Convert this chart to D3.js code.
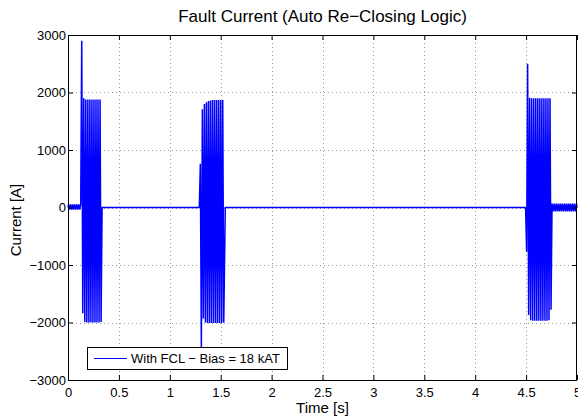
<!DOCTYPE html>
<html>
<head>
<meta charset="utf-8">
<script src="https://cdn.jsdelivr.net/npm/d3@7"></script>
<style>
  body { margin: 0; background: #fff; }
  svg { display: block; }
</style>
</head>
<body>
<div id="chart"></div>
<script>
// half-cycle peaks of the current (50 Hz -> one peak every 10 ms)
const halfPeriod = 0.01;

const preFaultStart = 0.005;
const preFaultPeaks = [55, -35, 55, -35, 55, -35, 55, -35, 55, -35, 55, -35, 55];

const fault1Start = 0.135;
const fault1Peaks = [2900, -1840, 1900, -1990, 1880, -2000, 1880, -2000, 1880, -2000,
  1880, -2000, 1880, -2000, 1880, -2000, 1880, -2000, 1880, -1990];

const fault2Start = 1.3;
const fault2Peaks = [760, -2440, 1710, -1930, 1800, -2000, 1830, -2010, 1850, -2010,
  1860, -2010, 1870, -2010, 1870, -2010, 1870, -2010, 1870, -2010, 1870, -2010, 1870, -2000];

const fault3Start = 4.505;
const fault3Peaks = [-770, 2500, -1870, 1910, -1960, 1900, -1970, 1900, -1970, 1900,
  -1970, 1900, -1970, 1900, -1970, 1900, -1970, 1900, -1970, 1900, -1970, 1900, -1960, 1900, -1780];

const postFaultStart = 4.755;
const postFaultPeaks = [70, -70, 70, -70, 70, -70, 70, -70, 70, -70, 70, -70, 70,
  -70, 70, -70, 70, -70, 70, -70, 70, -70, 70, -70, 70];

// flat (breaker open / no fault) stretches
const quietTimes = [0, 0.335, 1.29, 1.545, 4.495, 5];

const xTicks = [0, 0.5, 1, 1.5, 2, 2.5, 3, 3.5, 4, 4.5, 5];
const yTicks = [-3000, -2000, -1000, 0, 1000, 2000, 3000];

const svgWidth = 578;
const svgHeight = 417;
const margin = { top: 35, right: 1, bottom: 37, left: 68 };
const innerWidth = svgWidth - margin.left - margin.right;
const innerHeight = svgHeight - margin.top - margin.bottom;
const font = "'Liberation Sans', Arial, Helvetica, sans-serif";

const svg = d3.select("#chart")
  .append("svg")
  .attr("width", svgWidth)
  .attr("height", svgHeight)
  .style("font-family", font);

const x = d3.scaleLinear()
  .domain([0, 5])
  .range([margin.left, margin.left + innerWidth]);

const y = d3.scaleLinear()
  .domain([-3000, 3000])
  .range([margin.top + innerHeight, margin.top]);

// build the point list
const points = [];
const addPeaks = (t0, peaks) => peaks.forEach((v, i) => points.push({ t: t0 + i * halfPeriod, v }));
addPeaks(preFaultStart, preFaultPeaks);
addPeaks(fault1Start, fault1Peaks);
addPeaks(fault2Start, fault2Peaks);
addPeaks(fault3Start, fault3Peaks);
addPeaks(postFaultStart, postFaultPeaks);
quietTimes.forEach(t => points.push({ t, v: 0 }));
points.sort((a, b) => a.t - b.t);

// grid
const grid = svg.append("g")
  .attr("stroke", "#999")
  .attr("stroke-width", 1)
  .attr("stroke-dasharray", "1,3");

grid.selectAll("line.vx")
  .data(xTicks.slice(1, -1))
  .join("line")
  .attr("x1", d => Math.round(x(d)) + 0.5)
  .attr("x2", d => Math.round(x(d)) + 0.5)
  .attr("y1", margin.top)
  .attr("y2", margin.top + innerHeight);

grid.selectAll("line.hy")
  .data(yTicks.slice(1, -1))
  .join("line")
  .attr("y1", d => Math.round(y(d)) + 0.5)
  .attr("y2", d => Math.round(y(d)) + 0.5)
  .attr("x1", margin.left)
  .attr("x2", margin.left + innerWidth);

// signal
const line = d3.line()
  .x(d => x(d.t))
  .y(d => y(d.v));

svg.append("path")
  .datum(points)
  .attr("fill", "none")
  .attr("stroke", "#0000ff")
  .attr("stroke-width", 1.5)
  .attr("d", line);

// axes (MATLAB style: ticks inside on all four sides)
const fmt = d3.format("~g");

svg.append("g")
  .attr("transform", `translate(0,${margin.top + innerHeight})`)
  .call(d3.axisBottom(x).tickValues(xTicks).tickFormat(fmt).tickSize(-5).tickPadding(8))
  .call(g => g.select(".domain").remove())
  .call(g => g.selectAll("text").style("font-size", "13px").style("font-family", font).attr("fill", "#000"));

svg.append("g")
  .attr("transform", `translate(${margin.left},0)`)
  .call(d3.axisLeft(y).tickValues(yTicks).tickFormat(fmt).tickSize(-5).tickPadding(2))
  .call(g => g.select(".domain").remove())
  .call(g => g.selectAll("text").style("font-size", "13px").style("font-family", font).attr("fill", "#000"));

svg.append("g")
  .attr("transform", `translate(0,${margin.top})`)
  .call(d3.axisTop(x).tickValues(xTicks).tickSize(-5))
  .call(g => g.select(".domain").remove())
  .call(g => g.selectAll("text").remove());

svg.append("g")
  .attr("transform", `translate(${margin.left + innerWidth},0)`)
  .call(d3.axisRight(y).tickValues(yTicks).tickSize(-5))
  .call(g => g.select(".domain").remove())
  .call(g => g.selectAll("text").remove());

svg.append("rect")
  .attr("x", margin.left + 0.5)
  .attr("y", margin.top + 0.5)
  .attr("width", innerWidth - 1)
  .attr("height", innerHeight)
  .attr("fill", "none")
  .attr("stroke", "#000");

// title and axis labels
svg.append("text")
  .attr("x", margin.left + innerWidth / 2)
  .attr("y", 22)
  .attr("text-anchor", "middle")
  .style("font-size", "17px")
  .text("Fault Current (Auto Re\u2212Closing Logic)");

svg.append("text")
  .attr("x", margin.left + innerWidth / 2)
  .attr("y", 413)
  .attr("text-anchor", "middle")
  .style("font-size", "15px")
  .text("Time [s]");

svg.append("text")
  .attr("transform", `translate(21,220) rotate(-90)`)
  .attr("text-anchor", "middle")
  .style("font-size", "15px")
  .text("Current [A]");

// legend
const legend = svg.append("g");
legend.append("rect")
  .attr("x", 87.5)
  .attr("y", 347.5)
  .attr("width", 200)
  .attr("height", 22)
  .attr("fill", "#fff")
  .attr("stroke", "#000");
legend.append("line")
  .attr("x1", 94)
  .attr("x2", 127)
  .attr("y1", 358.5)
  .attr("y2", 358.5)
  .attr("stroke", "#0000ff");
legend.append("text")
  .attr("x", 131)
  .attr("y", 363)
  .style("font-size", "13px")
  .text("With FCL \u2212 Bias = 18 kAT");
</script>
</body>
</html>
